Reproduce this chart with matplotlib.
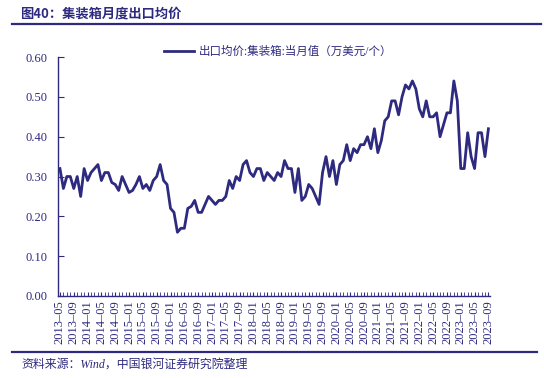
import numpy as np
import pandas as pd
import matplotlib
matplotlib.use("Agg")
import matplotlib.pyplot as plt
from matplotlib.ticker import MultipleLocator, FixedLocator

plt.rcParams['font.family'] = ['Liberation Serif', 'Noto Sans CJK SC']

NAVY = '#2e2a80'

# monthly export price, 2013-05 .. 2023-09
months = pd.period_range('2013-05', '2023-09', freq='M')
price = [
    # 2013-05 .. 2013-12
    0.32, 0.27, 0.30, 0.30, 0.27, 0.30, 0.25, 0.32,
    # 2014
    0.29, 0.31, 0.32, 0.33, 0.29, 0.31, 0.31, 0.285, 0.28, 0.265, 0.30, 0.28,
    # 2015
    0.26, 0.265, 0.28, 0.30, 0.27, 0.28, 0.265, 0.29, 0.30, 0.33, 0.29, 0.28,
    # 2016
    0.22, 0.21, 0.16, 0.17, 0.17, 0.22, 0.225, 0.24, 0.21, 0.21, 0.23, 0.25,
    # 2017
    0.24, 0.23, 0.24, 0.24, 0.25, 0.29, 0.27, 0.30, 0.29, 0.33, 0.34, 0.31,
    # 2018
    0.30, 0.32, 0.32, 0.29, 0.31, 0.30, 0.29, 0.31, 0.30, 0.34, 0.32, 0.32,
    # 2019
    0.26, 0.32, 0.24, 0.25, 0.28, 0.27, 0.25, 0.23, 0.31, 0.35, 0.30, 0.34,
    # 2020
    0.28, 0.33, 0.34, 0.38, 0.34, 0.37, 0.36, 0.38, 0.38, 0.40, 0.37, 0.42,
    # 2021
    0.36, 0.39, 0.44, 0.45, 0.49, 0.49, 0.455, 0.50, 0.53, 0.52, 0.54, 0.52,
    # 2022
    0.47, 0.45, 0.49, 0.45, 0.45, 0.46, 0.40, 0.43, 0.46, 0.46, 0.54, 0.49,
    # 2023-01 .. 2023-09
    0.32, 0.32, 0.41, 0.35, 0.32, 0.41, 0.41, 0.35, 0.42,
]
labels = [m.strftime('%Y') + '\u2013' + m.strftime('%m') for m in months]

fig = plt.figure(figsize=(5.44, 3.78), dpi=100)
ax = fig.add_axes([0.107, 0.217, 0.794, 0.632])

x = np.arange(len(months))
ax.plot(x, price, color=NAVY, lw=2.0,
        label='出口均价:集装箱:当月值（万美元/个）')

ax.set_xlim(-0.5, len(months) - 0.5)
ax.set_ylim(0, 0.6)
ax.yaxis.set_major_locator(MultipleLocator(0.1))
ax.set_yticklabels([f'{v:.2f}' for v in ax.get_yticks()])

ax.xaxis.set_major_locator(FixedLocator(x[::4]))
ax.set_xticklabels(labels[::4], rotation=90)
ax.xaxis.set_minor_locator(FixedLocator(x))

for s in ['top', 'right']:
    ax.spines[s].set_visible(False)
for s in ['left', 'bottom']:
    ax.spines[s].set_color(NAVY)
    ax.spines[s].set_linewidth(1.0)

ax.tick_params(axis='both', which='both', direction='in', colors=NAVY,
               labelsize=9, labelcolor=NAVY)
ax.tick_params(axis='x', which='both', length=3, pad=3)
ax.tick_params(axis='y', length=4, pad=8)

leg = ax.legend(loc='upper center', bbox_to_anchor=(0.51, 1.09), frameon=False,
                fontsize=8.3, handlelength=2.6, handletextpad=0.4)
for t in leg.get_texts():
    t.set_color(NAVY)

# title and frame lines
fig.text(0.037, 0.965, '图40：集装箱月度出口均价', fontsize=9.5, fontweight='bold',
         color=NAVY, va='center', family=['Noto Sans CJK SC', 'DejaVu Sans'])
fig.add_artist(plt.Line2D([0.022, 0.995], [0.937, 0.937], color=NAVY, lw=1.6))
fig.add_artist(plt.Line2D([0.022, 0.988], [0.069, 0.069], color=NAVY, lw=1.6))
fig.text(0.04, 0.035, '资料来源：Wind，中国银河证券研究院整理', fontsize=8.6,
         style='italic', color=NAVY, va='center')

fig.savefig('out.png', dpi=100)
